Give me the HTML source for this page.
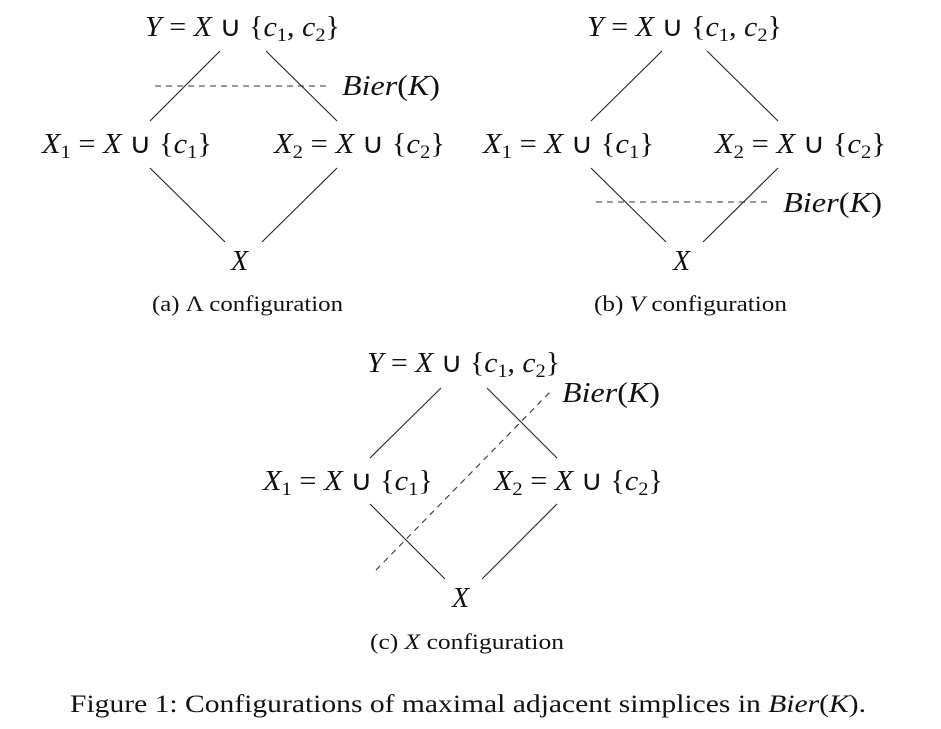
<!DOCTYPE html>
<html><head><meta charset="utf-8"><style>
body{margin:0;background:#fff}
svg{display:block}
text{font-family:"Liberation Serif",serif;fill:#111}
.m{font-size:28px}
.c{font-size:22px}
.f{font-size:25px}
.l{stroke:#222;stroke-width:1.1}
.d{stroke:#333;stroke-width:1.1;stroke-dasharray:6,5}
</style></head><body>
<svg width="941" height="729" viewBox="0 0 941 729">
<!-- (a) -->
<g>
<text class="m" x="145" y="36" textLength="195" lengthAdjust="spacingAndGlyphs"><tspan font-style="italic">Y</tspan> = <tspan font-style="italic">X</tspan> ∪ {<tspan font-style="italic">c</tspan><tspan font-size="19" dy="5">1</tspan><tspan dy="-5">, </tspan><tspan font-style="italic">c</tspan><tspan font-size="19" dy="5">2</tspan><tspan dy="-5">}</tspan></text>
<line class="l" x1="220" y1="51" x2="150" y2="121"/>
<line class="l" x1="266" y1="51" x2="337" y2="121"/>
<line class="l" x1="150" y1="168" x2="225" y2="242"/>
<line class="l" x1="337" y1="168" x2="262" y2="242"/>
<line class="d" x1="155" y1="86" x2="328" y2="86"/>
<text class="m" x="342" y="95" font-style="italic" textLength="98" lengthAdjust="spacingAndGlyphs">Bier<tspan font-style="normal">(</tspan>K<tspan font-style="normal">)</tspan></text>
<text class="m" x="42" y="153" textLength="170" lengthAdjust="spacingAndGlyphs"><tspan font-style="italic">X</tspan><tspan font-size="19" dy="5">1</tspan><tspan dy="-5"> = </tspan><tspan font-style="italic">X</tspan> ∪ {<tspan font-style="italic">c</tspan><tspan font-size="19" dy="5">1</tspan><tspan dy="-5">}</tspan></text>
<text class="m" x="274" y="153" textLength="171" lengthAdjust="spacingAndGlyphs"><tspan font-style="italic">X</tspan><tspan font-size="19" dy="5">2</tspan><tspan dy="-5"> = </tspan><tspan font-style="italic">X</tspan> ∪ {<tspan font-style="italic">c</tspan><tspan font-size="19" dy="5">2</tspan><tspan dy="-5">}</tspan></text>
<text class="m" x="231" y="270" font-style="italic">X</text>
<text class="c" x="152" y="311" textLength="191" lengthAdjust="spacingAndGlyphs">(a) Λ configuration</text>
</g>
<!-- (b) -->
<g>
<text class="m" x="587" y="36" textLength="195" lengthAdjust="spacingAndGlyphs"><tspan font-style="italic">Y</tspan> = <tspan font-style="italic">X</tspan> ∪ {<tspan font-style="italic">c</tspan><tspan font-size="19" dy="5">1</tspan><tspan dy="-5">, </tspan><tspan font-style="italic">c</tspan><tspan font-size="19" dy="5">2</tspan><tspan dy="-5">}</tspan></text>
<line class="l" x1="662" y1="51" x2="591" y2="121"/>
<line class="l" x1="707" y1="51" x2="778" y2="121"/>
<line class="l" x1="591" y1="168" x2="666" y2="242"/>
<line class="l" x1="778" y1="168" x2="703" y2="242"/>
<line class="d" x1="596" y1="202" x2="768" y2="202"/>
<text class="m" x="783" y="212" font-style="italic" textLength="99" lengthAdjust="spacingAndGlyphs">Bier<tspan font-style="normal">(</tspan>K<tspan font-style="normal">)</tspan></text>
<text class="m" x="483" y="153" textLength="171" lengthAdjust="spacingAndGlyphs"><tspan font-style="italic">X</tspan><tspan font-size="19" dy="5">1</tspan><tspan dy="-5"> = </tspan><tspan font-style="italic">X</tspan> ∪ {<tspan font-style="italic">c</tspan><tspan font-size="19" dy="5">1</tspan><tspan dy="-5">}</tspan></text>
<text class="m" x="715" y="153" textLength="171" lengthAdjust="spacingAndGlyphs"><tspan font-style="italic">X</tspan><tspan font-size="19" dy="5">2</tspan><tspan dy="-5"> = </tspan><tspan font-style="italic">X</tspan> ∪ {<tspan font-style="italic">c</tspan><tspan font-size="19" dy="5">2</tspan><tspan dy="-5">}</tspan></text>
<text class="m" x="673" y="270" font-style="italic">X</text>
<text class="c" x="594" y="311" textLength="193" lengthAdjust="spacingAndGlyphs">(b) <tspan font-style="italic">V</tspan> configuration</text>
</g>
<!-- (c) -->
<g>
<text class="m" x="367" y="372" textLength="193" lengthAdjust="spacingAndGlyphs"><tspan font-style="italic">Y</tspan> = <tspan font-style="italic">X</tspan> ∪ {<tspan font-style="italic">c</tspan><tspan font-size="19" dy="5">1</tspan><tspan dy="-5">, </tspan><tspan font-style="italic">c</tspan><tspan font-size="19" dy="5">2</tspan><tspan dy="-5">}</tspan></text>
<line class="l" x1="441" y1="388" x2="370" y2="458"/>
<line class="l" x1="487" y1="388" x2="557" y2="458"/>
<line class="l" x1="370" y1="504" x2="445" y2="579"/>
<line class="l" x1="557" y1="504" x2="482" y2="579"/>
<line class="d" x1="376" y1="570" x2="552" y2="390"/>
<text class="m" x="562" y="402" font-style="italic" textLength="98" lengthAdjust="spacingAndGlyphs">Bier<tspan font-style="normal">(</tspan>K<tspan font-style="normal">)</tspan></text>
<text class="m" x="263" y="490" textLength="170" lengthAdjust="spacingAndGlyphs"><tspan font-style="italic">X</tspan><tspan font-size="19" dy="5">1</tspan><tspan dy="-5"> = </tspan><tspan font-style="italic">X</tspan> ∪ {<tspan font-style="italic">c</tspan><tspan font-size="19" dy="5">1</tspan><tspan dy="-5">}</tspan></text>
<text class="m" x="494" y="490" textLength="169" lengthAdjust="spacingAndGlyphs"><tspan font-style="italic">X</tspan><tspan font-size="19" dy="5">2</tspan><tspan dy="-5"> = </tspan><tspan font-style="italic">X</tspan> ∪ {<tspan font-style="italic">c</tspan><tspan font-size="19" dy="5">2</tspan><tspan dy="-5">}</tspan></text>
<text class="m" x="452" y="607" font-style="italic">X</text>
<text class="c" x="370" y="649" textLength="194" lengthAdjust="spacingAndGlyphs">(c) <tspan font-style="italic">X</tspan> configuration</text>
</g>
<text class="f" x="70" y="712" textLength="796" lengthAdjust="spacingAndGlyphs">Figure 1: Configurations of maximal adjacent simplices in <tspan font-style="italic">Bier</tspan>(<tspan font-style="italic">K</tspan>).</text>
</svg>
</body></html>
